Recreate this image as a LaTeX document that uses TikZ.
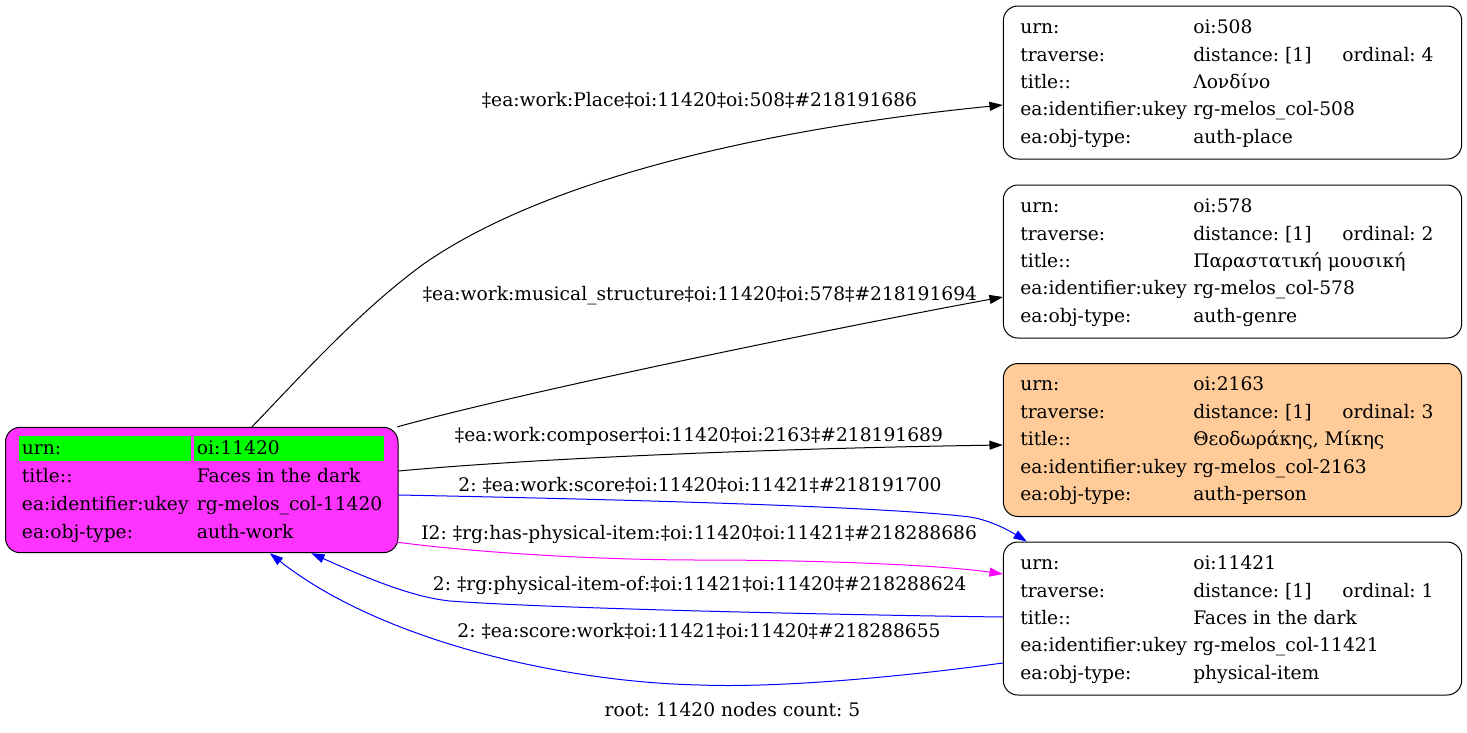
\documentclass[tikz,border=0pt]{standalone}
\usepackage{fontspec}
\setmainfont{DejaVu Serif}
\usetikzlibrary{calc,arrows.meta}
\frenchspacing
\definecolor{workfill}{HTML}{FF33FF}
\definecolor{urngreen}{HTML}{00FF00}
\definecolor{peach}{HTML}{FFCC99}
\definecolor{edgemag}{HTML}{FF00FF}
\definecolor{edgeblue}{HTML}{0000FF}
\newcommand\rightrec[7]{%
  \node[txt] (#1-k1) at (1020,#2+27) {urn:};
  \node[txt] (#1-v1) at (1193,#2+27) {#3};
  \node[txt] (#1-k2) at (1020,#2+55) {traverse:};
  \node[txt] (#1-v2) at (1193,#2+55) {distance: [1]};
  \node[txt] (#1-o2) at (1342,#2+55) {ordinal: #4};
  \node[txt] (#1-k3) at (1020,#2+82) {title::};
  \node[txt] (#1-v3) at (1193,#2+82) {#5};
  \node[txt] (#1-k4) at (1020,#2+109.5) {ea:identifier:ukey};
  \node[txt] (#1-v4) at (1193,#2+109.5) {#6};
  \node[txt] (#1-k5) at (1020,#2+137) {ea:obj-type:};
  \node[txt] (#1-v5) at (1193,#2+137) {#7};
}
\begin{document}
\begin{tikzpicture}[x=0.75pt,y=-0.75pt,
  box/.style={draw=black,line width=0.75pt,rounded corners=11pt,inner sep=0pt},
  rbox/.style={box,minimum width=458.4*0.75pt,minimum height=153*0.75pt},
  txt/.style={anchor=base west,inner sep=0pt,font=\fontsize{14pt}{16pt}\selectfont\frenchspacing},
  lbl/.style={anchor=base,inner sep=0pt,font=\fontsize{14pt}{16pt}\selectfont\frenchspacing},
  cell/.style={fill=urngreen,inner sep=0pt,anchor=north west,minimum height=25.3*0.75pt},
  edge/.style={line width=0.75pt,-{Triangle[length=10pt,width=6.7pt]}},
]
\fill[white] (0,0) rectangle (1467,732);
\useasboundingbox (0,0) rectangle (1467,732);

% left node
\node[box,fill=workfill,minimum width=392.5*0.75pt,minimum height=125.4*0.75pt] (work) at (201.75,490) {};
\node[cell,minimum width=171.7*0.75pt] (g1) at (19,435.7) {};
\node[cell,minimum width=190.7*0.75pt] (g2) at (193.3,435.7) {};
\node[txt] (w-k1) at (21.7,454.5) {urn:};
\node[txt] (w-v1) at (196.7,454.5) {oi:11420};
\node[txt] (w-k2) at (21.7,482) {title::};
\node[txt] (w-v2) at (196.7,482) {Faces in the dark};
\node[txt] (w-k3) at (21.7,510) {ea:identifier:ukey};
\node[txt] (w-v3) at (196.7,510) {rg-melos\_col-11420};
\node[txt] (w-k4) at (21.7,538) {ea:obj-type:};
\node[txt] (w-v4) at (196.7,538) {auth-work};

% right nodes
\node[rbox,fill=white] (n508) at (1232.5,82.5) {};
\node[rbox,fill=white] (n578) at (1232.5,261.5) {};
\node[rbox,fill=peach] (n2163) at (1232.5,440) {};
\node[rbox,fill=white] (n11421) at (1232.5,618.5) {};
\rightrec{a}{6}{oi:508}{4}{Λονδίνο}{rg-melos\_col-508}{auth-place}
\rightrec{b}{185}{oi:578}{2}{Παραστατική μουσική}{rg-melos\_col-578}{auth-genre}
\rightrec{c}{363.5}{oi:2163}{3}{Θεοδωράκης, Μίκης}{rg-melos\_col-2163}{auth-person}
\rightrec{d}{542}{oi:11421}{1}{Faces in the dark}{rg-melos\_col-11421}{physical-item}

% edges
\draw[edge] ($(work.north)+(50.25,0)$) .. controls (300,377) and (360,310) .. (425,263)
  .. controls (560,170) and (800,125) .. ($(n508.west)+(0,22.5)$);
\draw[edge] ($(work.north east)+(-1,0)$) .. controls (530,390) and (850,325) .. ($(n578.west)+(0,35.5)$);
\draw[edge] ($(work.east)+(0,-19)$) .. controls (550,457) and (800,448) .. ($(n2163.west)+(0,5)$);
\draw[edge,draw=edgeblue] ($(work.east)+(0,5)$) .. controls (600,499) and (880,506) .. (970,517)
  .. controls (990,520) and (1010,531) .. ($(n11421.north west)+(24,0)$);
\draw[edge,draw=edgemag] ($(work.south east)+(-1.5,-11)$) .. controls (480,553) and (600,560) .. (700,560)
  .. controls (820,560) and (940,565) .. ($(n11421.west)+(0,-44.5)$);
\draw[edge,draw=edgeblue] ($(n11421.west)+(0,-1.5)$) .. controls (850,615) and (560,609) .. (450,601)
  .. controls (410,597) and (360,575) .. ($(work.south)+(109.5,0)$);
\draw[edge,draw=edgeblue] ($(n11421.west)+(0,44.5)$) .. controls (900,677) and (780,688) .. (700,685)
  .. controls (560,682) and (380,640) .. ($(work.south)+(68,0)$);

% edge labels
\node[lbl] (l1) at (699.5,106) {‡ea:work:Place‡oi:11420‡oi:508‡\#218191686};
\node[lbl] (l2) at (700,300) {‡ea:work:musical\_structure‡oi:11420‡oi:578‡\#218191694};
\node[lbl] (l3) at (699,441.7) {‡ea:work:composer‡oi:11420‡oi:2163‡\#218191689};
\node[lbl] (l4) at (700,491) {2: ‡ea:work:score‡oi:11420‡oi:11421‡\#218191700};
\node[lbl] (l5) at (699.2,539) {I2: ‡rg:has-physical-item:‡oi:11420‡oi:11421‡\#218288686};
\node[lbl] (l6) at (699.8,590.5) {2: ‡rg:physical-item-of:‡oi:11421‡oi:11420‡\#218288624};
\node[lbl] (l7) at (699,637) {2: ‡ea:score:work‡oi:11421‡oi:11420‡\#218288655};
\node[lbl] (root) at (732.5,716) {root: 11420 nodes count: 5};
\end{tikzpicture}
\end{document}
